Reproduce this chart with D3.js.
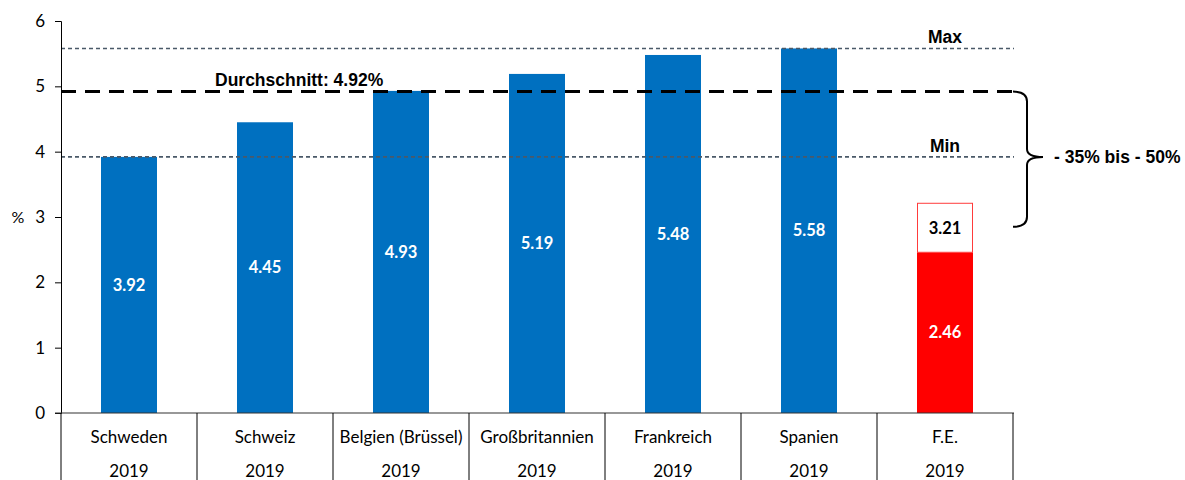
<!DOCTYPE html>
<html>
<head>
<meta charset="utf-8">
<script src="https://cdn.jsdelivr.net/npm/d3@7.9.0/dist/d3.min.js"></script>
<style>
  body { margin: 0; background: #fff; }
  svg { display: block; }
</style>
</head>
<body>
<svg id="chart" width="1185" height="480"></svg>
<script>
// data
const countries = ['Schweden', 'Schweiz', 'Belgien (Brüssel)', 'Großbritannien', 'Frankreich', 'Spanien', 'F.E.'];
const years = ['2019', '2019', '2019', '2019', '2019', '2019', '2019'];
const values = [3.92, 4.45, 4.93, 5.19, 5.48, 5.58, 2.46];
const feUpper = 3.21;
const avgValue = 4.92;
const maxValue = 5.58;
const minValue = 3.92;
const braceLow = 2.85;
const yTicks = [0, 1, 2, 3, 4, 5, 6];

const svg = d3.select('#chart');
const plotLeft = 61, plotRight = 1013, plotTop = 21, plotBottom = 413;

const x = d3.scaleBand().domain(countries).range([plotLeft, plotRight]).paddingInner(0).paddingOuter(0);
const y = d3.scaleLinear().domain([0, 6]).range([plotBottom, plotTop]);
const barW = 56;
const cx = d => x(d) + x.bandwidth() / 2;

//bars
svg.append('g').selectAll('rect')
  .data(countries)
  .join('rect')
  .attr('x', d => cx(d) - barW / 2)
  .attr('width', barW)
  .attr('y', (d, i) => y(values[i]))
  .attr('height', (d, i) => plotBottom - y(values[i]))
  .attr('fill', d => d === 'F.E.' ? '#ff0000' : '#0070c0');

//F.E. upper outlined part
svg.append('rect')
  .attr('x', cx('F.E.') - barW / 2 + 0.5)
  .attr('width', barW - 1)
  .attr('y', y(feUpper))
  .attr('height', y(values[6]) - y(feUpper))
  .attr('fill', '#fff')
  .attr('stroke', '#ff3b3b')
  .attr('stroke-width', 1);

//bar labels
svg.append('g').selectAll('text')
  .data(countries)
  .join('text')
  .attr('x', d => cx(d))
  .attr('y', (d, i) => (y(values[i]) + plotBottom) / 2)
  .attr('dy', '0.35em')
  .attr('text-anchor', 'middle')
  .attr('font-family', 'Lato, sans-serif')
  .attr('font-weight', 'bold')
  .attr('font-size', 16.5)
  .attr('fill', '#fff')
  .text((d, i) => values[i].toFixed(2));

svg.append('text')
  .attr('x', cx('F.E.'))
  .attr('y', (y(feUpper) + y(values[6])) / 2)
  .attr('dy', '0.35em')
  .attr('text-anchor', 'middle')
  .attr('font-family', 'Lato, sans-serif')
  .attr('font-weight', 'bold')
  .attr('font-size', 16.5)
  .attr('fill', '#000')
  .text(feUpper.toFixed(2));

//max/min lines
[[maxValue, 'Max'], [minValue, 'Min']].forEach(([v, lbl]) => {
  svg.append('line')
    .attr('x1', plotLeft).attr('x2', plotRight + 1)
    .attr('y1', y(v)).attr('y2', y(v))
    .attr('stroke', '#4a5968')
    .attr('stroke-width', 1.6)
    .attr('stroke-dasharray', '4,3');
  svg.append('text')
    .attr('x', 945).attr('y', y(v) - 5)
    .attr('text-anchor', 'middle')
    .attr('font-family', 'Liberation Sans, Arial, sans-serif')
    .attr('font-weight', 'bold')
    .attr('font-size', 17.5)
    .text(lbl);
});

//average line
svg.append('line')
  .attr('x1', plotLeft).attr('x2', plotRight + 2)
  .attr('y1', y(avgValue)).attr('y2', y(avgValue))
  .attr('stroke', '#000')
  .attr('stroke-width', 3)
  .attr('stroke-dasharray', '15,9');
svg.append('text')
  .attr('x', 215).attr('y', y(avgValue) - 6)
  .attr('font-family', 'Liberation Sans, Arial, sans-serif')
  .attr('font-weight', 'bold')
  .attr('font-size', 17.5)
  .text('Durchschnitt: ' + avgValue.toFixed(2) + '%');

//brace
const bTop = y(avgValue), bBot = y(braceLow), bMid = y(minValue);
const bx = 1027;
const brace = d3.path();
brace.moveTo(1013, bTop);
brace.quadraticCurveTo(bx, bTop, bx, bTop + 10);
brace.lineTo(bx, bMid - 8);
brace.quadraticCurveTo(bx, bMid, 1043, bMid);
brace.quadraticCurveTo(bx, bMid, bx, bMid + 8);
brace.lineTo(bx, bBot - 10);
brace.quadraticCurveTo(bx, bBot, 1013, bBot);
svg.append('path')
  .attr('d', brace.toString())
  .attr('fill', 'none')
  .attr('stroke', '#000')
  .attr('stroke-width', 2);
svg.append('text')
  .attr('x', 1054).attr('y', bMid)
  .attr('dy', '0.35em')
  .attr('font-family', 'Liberation Sans, Arial, sans-serif')
  .attr('font-weight', 'bold')
  .attr('font-size', 17.5)
  .text('- 35% bis - 50%');

//y axis
const yAxis = svg.append('g')
  .attr('transform', `translate(${plotLeft},0)`)
  .call(d3.axisLeft(y).tickValues(yTicks).tickSize(6).tickPadding(10).tickFormat(d3.format('d')));
yAxis.select('.domain').attr('stroke', '#000');
yAxis.selectAll('.tick line').attr('stroke', '#000');
yAxis.selectAll('.tick text')
  .attr('font-family', 'Lato, sans-serif')
  .attr('font-size', 17)
  .attr('fill', '#000');

svg.append('text')
  .attr('x', 18).attr('y', y(3))
  .attr('dy', '0.35em')
  .attr('text-anchor', 'middle')
  .attr('font-family', 'Lato, sans-serif')
  .attr('font-size', 16)
  .text('%');

//category table
svg.append('line')
  .attr('x1', plotLeft - 6).attr('x2', plotRight + 1)
  .attr('y1', plotBottom).attr('y2', plotBottom)
  .attr('stroke', '#333').attr('stroke-width', 1.2);
const seps = countries.map(d => x(d)).concat([plotRight]);
svg.append('g').selectAll('line')
  .data(seps)
  .join('line')
  .attr('x1', d => d).attr('x2', d => d)
  .attr('y1', plotBottom).attr('y2', 480)
  .attr('stroke', '#000');

const cat = svg.append('g')
  .attr('font-family', 'Lato, sans-serif')
  .attr('font-size', 17)
  .attr('text-anchor', 'middle');
cat.selectAll('text.c')
  .data(countries)
  .join('text')
  .attr('class', 'c')
  .attr('x', d => cx(d))
  .attr('y', 437)
  .attr('dy', '0.35em')
  .text(d => d);
cat.selectAll('text.yr')
  .data(countries)
  .join('text')
  .attr('class', 'yr')
  .attr('x', d => cx(d))
  .attr('y', 471)
  .attr('dy', '0.35em')
  .text((d, i) => years[i]);
</script>
</body>
</html>
